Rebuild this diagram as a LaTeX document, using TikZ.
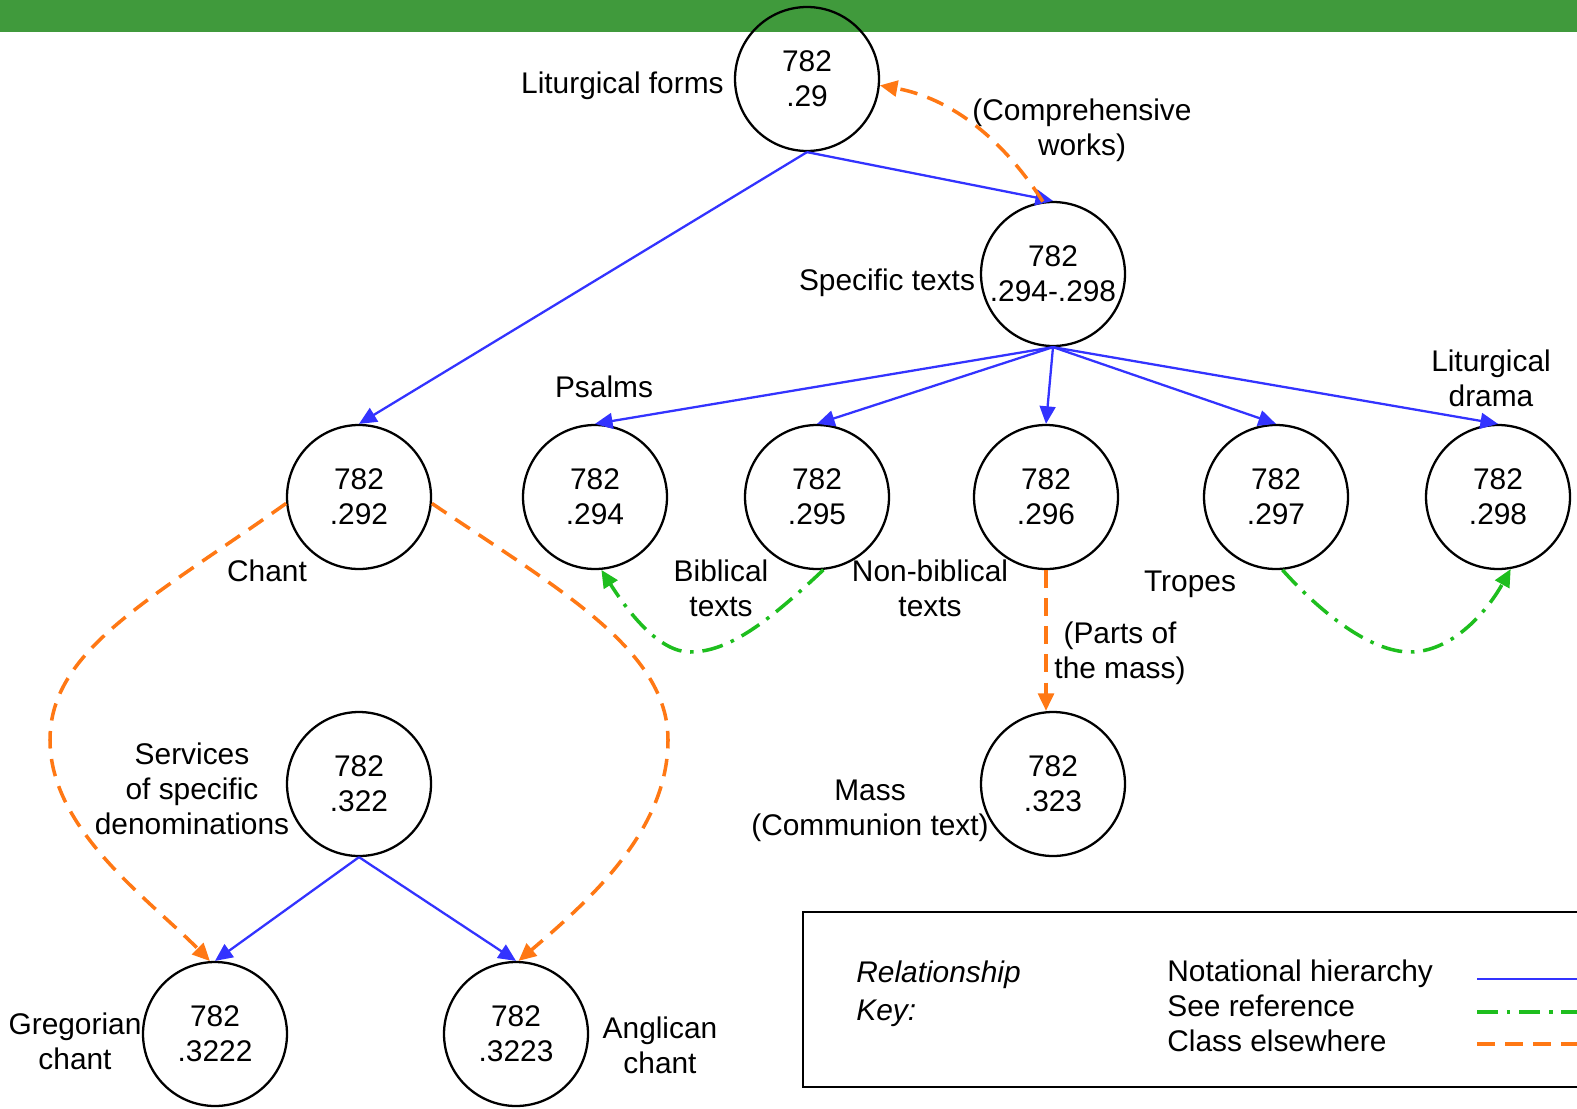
\documentclass[tikz,border=0pt]{standalone}
\usepackage{fontspec}
\setmainfont{Liberation Sans}
\usetikzlibrary{arrows.meta}
\definecolor{barGreen}{RGB}{64,154,60}
\definecolor{hierBlue}{RGB}{51,51,255}
\definecolor{refGreen}{RGB}{30,190,30}
\definecolor{classOrange}{RGB}{255,120,20}

\begin{document}
\begin{tikzpicture}[x=0.02cm,y=-0.02cm,
  every node/.style={font=\fontsize{17}{20}\selectfont},
  cls/.style={circle,draw,line width=1.3pt,minimum size=2.88cm,inner sep=0pt,align=center},
  lbl/.style={align=center,inner sep=0pt},
  hier/.style={hierBlue,line width=1.3pt,-{Triangle[length=10pt,width=9pt]}},
  seeref/.style={refGreen,line width=2pt,dash pattern=on 12pt off 5pt on 2pt off 5pt,-{Triangle[length=10pt,width=9pt]}},
  elsewhere/.style={classOrange,line width=2pt,dash pattern=on 10pt off 6pt,-{Triangle[length=10pt,width=9pt]}}]

    \path[use as bounding box,clip] (0,0) rectangle (1577,1108);
    \fill[barGreen] (0,0) rectangle (1577,32);


    \node[cls]         (n29) at (807, 79)          {782\\.29};
    \node[cls]    (n294298) at (1053, 274)         {782\\.294-.298};
    \node[cls]        (n292) at (359, 497)         {782\\.292};
    \node[cls]        (n294) at (595, 497)         {782\\.294};
    \node[cls]        (n295) at (817, 497)         {782\\.295};
    \node[cls]        (n296) at (1046, 497)        {782\\.296};
    \node[cls]        (n297) at (1276, 497)        {782\\.297};
    \node[cls]        (n298) at (1498, 497)        {782\\.298};
    \node[cls]        (n322) at (359, 784)         {782\\.322};
    \node[cls]        (n323) at (1053, 784)        {782\\.323};
    \node[cls]       (n3222) at (215, 1034)        {782\\.3222};
    \node[cls]       (n3223) at (516, 1034)        {782\\.3223};


    \node[lbl,anchor=east] (tforms) at (724, 86)   {Liturgical forms};
    \node[lbl]  (tcomp) at (1082, 130)             {(Comprehensive\\works)};
    \node[lbl]  (tspec) at (887, 283)              {Specific texts};
    \node[lbl]  (tpsalm) at (604, 387)             {Psalms};
    \node[lbl]  (tdrama) at (1491, 378)            {Liturgical\\drama};
    \node[lbl]  (tchant) at (267, 571)             {Chant};
    \node[lbl]  (tbibl) at (721, 588)              {Biblical\\texts};
    \node[lbl]  (tnonbibl) at (930, 588)           {Non-biblical\\texts};
    \node[lbl]  (ttropes) at (1190, 584)           {Tropes};
    \node[lbl]  (tparts) at (1120, 653)            {(Parts of\\the mass)};
    \node[lbl]  (tserv) at (192, 789)              {Services\\of specific\\denominations};
    \node[lbl]  (tmass) at (870, 811)              {Mass\\(Communion text)};
    \node[lbl]  (tgreg) at (75, 1041)              {Gregorian\\chant};
    \node[lbl]  (tangl) at (660, 1045)             {Anglican\\chant};


    \draw (n29.south) edge[hier]  (n292.north);
    \draw (n29.south) edge[hier]  (n294298.north);
    \draw (n294298.south) edge[hier]  (n294.north);
    \draw (n294298.south) edge[hier]  (n295.north);
    \draw (n294298.south) edge[hier]  (n296.north);
    \draw (n294298.south) edge[hier]  (n297.north);
    \draw (n294298.south) edge[hier]  (n298.north);
    \draw (n322.south) edge[hier]  (n3222.north);
    \draw (n322.south) edge[hier]  (n3223.north);

    \coordinate (chantL) at (50, 740);
    \coordinate (chantR) at (668, 740);
    \coordinate (biblLow) at (690, 652);
    \coordinate (tropLow) at (1410, 652);

    \draw[elsewhere] (n294298.98) .. controls (1010, 150) and (960, 100) .. (n29.-5);
    \draw[elsewhere] (n296.south) -- (n296.south |- n323.north);
    \draw[elsewhere] (n292.185) .. controls (150, 600) and (50, 650) .. (chantL)
                     .. controls (50, 830) and (150, 900) .. (n3222.94);
    \draw[elsewhere] (n292.-5) .. controls (560, 590) and (668, 650) .. (chantR)
                     .. controls (668, 830) and (590, 900) .. (n3223.88);
    \draw[seeref] (n295.-85) .. controls (770, 620) and (730, 652) .. (biblLow)
                  .. controls (660, 652) and (630, 615) .. (n294.-85);
    \draw[seeref] (n297.-85) .. controls (1320, 612) and (1370, 652) .. (tropLow)
                  .. controls (1450, 652) and (1485, 615) .. (n298.-80);


    \draw[line width=1.5pt] (803, 912) rectangle (1600, 1087);
    \node[lbl,anchor=west,align=left,font=\fontsize{17}{21.5}\selectfont\itshape] (tkey) at (856, 994) {Relationship\\Key:};
    \node[lbl,anchor=west,align=left] (tkinds) at (1167, 1006) {Notational hierarchy\\See reference\\Class elsewhere};
    \coordinate (kh1) at (1477, 979);
    \coordinate (kh2) at (1590, 979);
    \coordinate (ks1) at (1477, 1012);
    \coordinate (ks2) at (1590, 1012);
    \coordinate (kc1) at (1477, 1044);
    \coordinate (kc2) at (1590, 1044);
    \draw[hier,-] (kh1) -- (kh2);
    \draw[seeref,-] (ks1) -- (ks2);
    \draw[elsewhere,-] (kc1) -- (kc2);
  \end{tikzpicture}
\end{document}
